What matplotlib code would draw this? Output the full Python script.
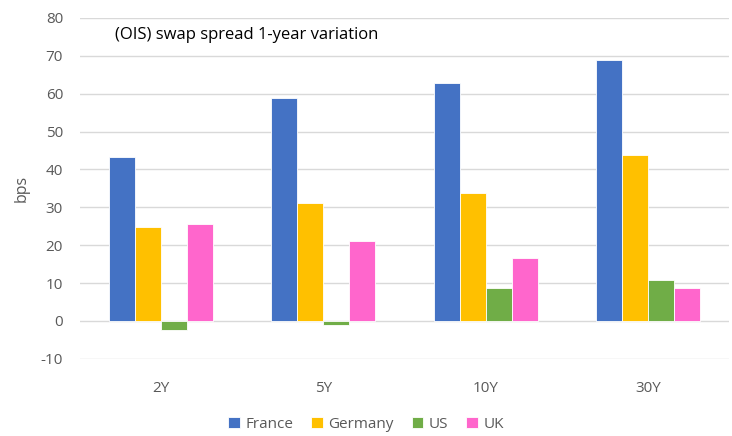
import numpy as np
import matplotlib.pyplot as plt

plt.rcParams['font.family'] = ['Open Sans', 'DejaVu Sans']
plt.rcParams['axes.unicode_minus'] = False

tenors = ['2Y', '5Y', '10Y', '30Y']
france = [43.3, 58.8, 62.9, 68.9]
germany = [24.8, 31.1, 33.7, 43.9]
us = [-2.4, -1.0, 8.6, 10.8]
uk = [25.6, 21.1, 16.7, 8.6]

series = [('France', france, '#4472C4'), ('Germany', germany, '#FFC000'),
          ('US', us, '#70AD47'), ('UK', uk, '#FF66CC')]

fig = plt.figure(figsize=(7.32, 4.36), dpi=100)
ax = fig.add_axes([0.109, 0.177, 0.887, 0.782])

x = np.arange(len(tenors))
w = 0.16
for i, (name, vals, col) in enumerate(series):
    ax.bar(x + (i - 1.5) * w, vals, w, color=col, label=name,
           edgecolor='white', linewidth=0.6, zorder=3)

ax.set_xlim(-0.5, 3.5)
ax.set_ylim(-10, 80)
ax.set_yticks(range(-10, 81, 10))
ax.set_xticks(x)
ax.set_xticklabels(tenors)
ax.grid(axis='y', color='#d9d9d9', linewidth=1, zorder=0)
for s in ax.spines.values():
    s.set_visible(False)
ax.tick_params(length=0, colors='#595959', labelsize=11)
ax.tick_params(axis='x', pad=16)
ax.tick_params(axis='y', pad=12)
ax.set_ylabel('bps', color='#595959', fontsize=11.5, labelpad=8)

ax.text(0.054, 0.95, '(OIS) swap spread 1-year variation', transform=ax.transAxes,
        fontsize=12, color='black', va='center', ha='left')

fig.legend(loc='center', bbox_to_anchor=(0.5, 0.027), ncol=4, frameon=False,
           fontsize=11, handlelength=0.75, handleheight=0.75, handletextpad=0.35,
           columnspacing=1.2, labelcolor='#595959')

fig.savefig('out.png', dpi=100)
